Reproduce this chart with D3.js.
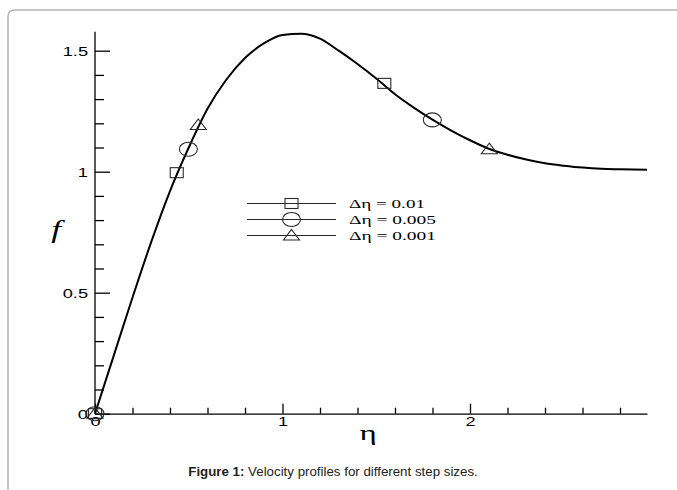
<!DOCTYPE html>
<html>
<head>
<meta charset="utf-8">
<script src="https://cdn.jsdelivr.net/npm/d3@7"></script>
<style>
  body { margin: 0; background: #fff; }
  svg { display: block; }
</style>
</head>
<body>
<svg id="chart" width="677" height="490"></svg>
<script>
// velocity profile
const eta = [0, 0.1, 0.2, 0.3, 0.4, 0.5, 0.6, 0.7, 0.8, 0.9, 1.0, 1.1, 1.2, 1.3, 1.4,
  1.5, 1.6, 1.7, 1.8, 1.9, 2.0, 2.1, 2.2, 2.3, 2.4, 2.5, 2.6, 2.7, 2.8, 2.944];
const fVals = [0, 0.24, 0.48, 0.71, 0.92, 1.10, 1.26, 1.38, 1.47, 1.53, 1.565, 1.57, 1.55,
  1.50, 1.445, 1.385, 1.32, 1.265, 1.215, 1.17, 1.13, 1.095, 1.07, 1.05, 1.035, 1.025,
  1.017, 1.012, 1.01, 1.008];

// marker positions for each step size
const seriesNames = ["\u0394\u03b7 = 0.01", "\u0394\u03b7 = 0.005", "\u0394\u03b7 = 0.001"];
const squareEta = [0, 0.436, 1.543];
const squareF = [0, 0.996, 1.365];
const circleEta = [0, 0.498, 1.799];
const circleF = [0, 1.093, 1.214];
const triEta = [0, 0.551, 2.103];
const triF = [0, 1.193, 1.093];

const xMajor = [0, 1, 2];
const yMajor = [0, 0.5, 1, 1.5];

// the plot in the figure is stretched sideways, text included
const SX = 1.35;

const svg = d3.select("#chart");

// frame around the figure
svg.append("rect")
  .attr("x", 8).attr("y", 10)
  .attr("width", 720).attr("height", 520)
  .attr("rx", 6)
  .attr("fill", "none")
  .attr("stroke", "#b4b4b4")
  .attr("stroke-width", 1.5);

const x = d3.scaleLinear().domain([0, 2.944]).range([95, 647]);
const y = d3.scaleLinear().domain([0, 1.5]).range([413.7, 50.7]);

const xMinor = d3.range(0, 2.95, 0.2).filter(v => Math.abs(v - Math.round(v)) > 1e-6);
const yMinor = d3.range(0, 1.58, 0.1).filter(v => Math.abs(v * 2 - Math.round(v * 2)) > 1e-6);

// x axis
const gx = svg.append("g").attr("transform", `translate(0,${y(0)})`);
gx.call(d3.axisBottom(x).tickValues(xMajor).tickFormat(d3.format("d"))
  .tickSizeInner(-10).tickSizeOuter(0).tickPadding(3));
svg.append("g").attr("transform", `translate(0,${y(0)})`)
  .call(d3.axisBottom(x).tickValues(xMinor).tickFormat("")
    .tickSizeInner(-6).tickSizeOuter(0))
  .select(".domain").remove();

// y axis
const gy = svg.append("g").attr("transform", `translate(${x(0)},0)`);
gy.call(d3.axisLeft(y).tickValues(yMajor).tickFormat(d => d)
  .tickSizeInner(-15).tickSizeOuter(0).tickPadding(7));
gy.select(".domain").attr("d", `M0,${y(1.578)}V${y(0)}`);
svg.append("g").attr("transform", `translate(${x(0)},0)`)
  .call(d3.axisLeft(y).tickValues(yMinor).tickFormat("")
    .tickSizeInner(-9).tickSizeOuter(0))
  .select(".domain").remove();

svg.selectAll(".domain, .tick line").attr("stroke", "#000").attr("stroke-width", 1.3);
svg.selectAll(".tick text")
  .attr("font-family", "Liberation Sans, Arial, sans-serif")
  .attr("font-size", 13.5)
  .attr("fill", "#000");
gx.selectAll(".tick text").attr("transform", `scale(${SX},1)`);
gy.selectAll(".tick text").attr("x", -7 / SX).attr("transform", `scale(${SX},1)`);

// axis titles
svg.append("text")
  .attr("transform", `translate(368,440) scale(1.5,1)`)
  .attr("text-anchor", "middle")
  .attr("font-family", "Liberation Serif, Times New Roman, serif")
  .attr("font-size", 22)
  .text("\u03b7");
svg.append("text")
  .attr("transform", `translate(56,238) scale(${SX},1)`)
  .attr("text-anchor", "middle")
  .attr("font-family", "Liberation Serif, Times New Roman, serif")
  .attr("font-style", "italic")
  .attr("font-size", 26)
  .text("f");

// curve
const line = d3.line()
  .x(i => x(eta[i]))
  .y(i => y(fVals[i]))
  .curve(d3.curveMonotoneX);
svg.append("path")
  .attr("d", line(d3.range(eta.length)))
  .attr("fill", "none")
  .attr("stroke", "#000")
  .attr("stroke-width", 2);

// marker shapes
const mk = "#2a2a2a";
function square(g, cx, cy) {
  g.append("rect").attr("x", cx - 6.5).attr("y", cy - 5).attr("width", 13).attr("height", 10)
    .attr("fill", "none").attr("stroke", mk).attr("stroke-width", 1.1);
}
function ellipse(g, cx, cy) {
  g.append("ellipse").attr("cx", cx).attr("cy", cy).attr("rx", 9).attr("ry", 7)
    .attr("fill", "none").attr("stroke", mk).attr("stroke-width", 1.1);
}
function triangle(g, cx, cy) {
  g.append("path").attr("d", `M${cx},${cy - 6}L${cx + 8},${cy + 4.5}L${cx - 8},${cy + 4.5}Z`)
    .attr("fill", "none").attr("stroke", mk).attr("stroke-width", 1.1);
}

const gm = svg.append("g");
squareEta.forEach((e, i) => square(gm, x(e), y(squareF[i])));
circleEta.forEach((e, i) => ellipse(gm, x(e), y(circleF[i])));
triEta.forEach((e, i) => triangle(gm, x(e), y(triF[i])));

// legend
const shapes = [square, ellipse, triangle];
const legendWidths = [76, 87, 87];
const lg = svg.append("g");
seriesNames.forEach((name, i) => {
  const ly = 203.5 + i * 16;
  lg.append("line").attr("x1", 247).attr("x2", 336).attr("y1", ly).attr("y2", ly)
    .attr("stroke", mk).attr("stroke-width", 1.1);
  shapes[i](lg, 291.5, ly);
  lg.append("text")
    .attr("x", 349).attr("y", ly + 4.5)
    .attr("font-family", "Liberation Serif, Times New Roman, serif")
    .attr("font-size", 13)
    .attr("textLength", legendWidths[i])
    .attr("lengthAdjust", "spacingAndGlyphs")
    .text(name);
});

// caption
const cap = svg.append("text")
  .attr("x", 333).attr("y", 476)
  .attr("text-anchor", "middle")
  .attr("font-family", "Liberation Sans, Arial, sans-serif")
  .attr("font-size", 13.3)
  .attr("fill", "#222");
cap.append("tspan").attr("font-weight", "bold").text("Figure 1:");
cap.append("tspan").text(" Velocity profiles for different step sizes.");
</script>
</body>
</html>
